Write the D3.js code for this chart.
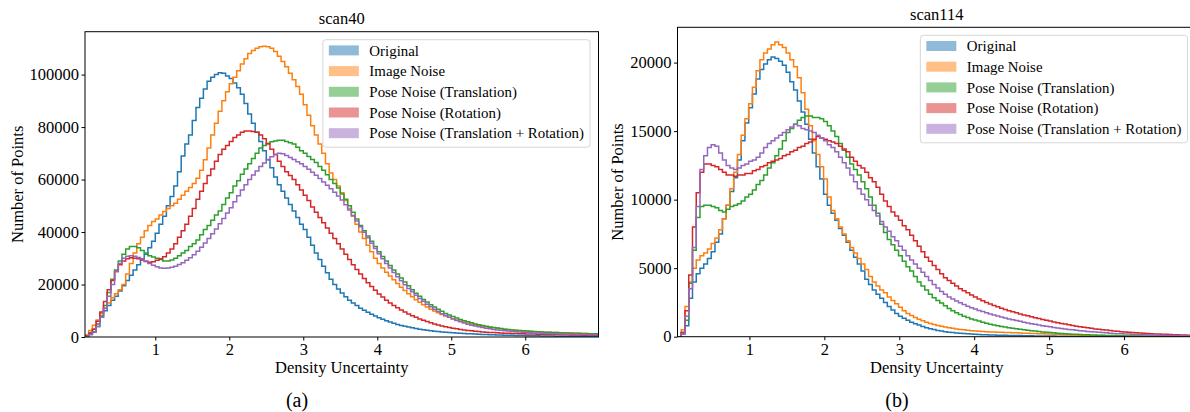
<!DOCTYPE html>
<html>
<head>
<meta charset="utf-8">
<script src="https://cdn.jsdelivr.net/npm/d3@7"></script>
<style>
  body { margin: 0; background: #ffffff; }
  svg { display: block; font-family: "Liberation Serif", "Times New Roman", serif; }
</style>
</head>
<body>
<svg id="chart" width="1190" height="412"></svg>
<script>
//=================== DATA ====================================
var seriesLabels = ["Original", "Image Noise", "Pose Noise (Translation)",
    "Pose Noise (Rotation)", "Pose Noise (Translation + Rotation)"];
var seriesColors = ["#1f77b4", "#ff7f0e", "#2ca02c", "#d62728", "#9467bd"];

var xTickValues = [1, 2, 3, 4, 5, 6];
var scan40YTicks = [0, 20000, 40000, 60000, 80000, 100000];
var scan114YTicks = [0, 5000, 10000, 15000, 20000];

// histogram bins (density uncertainty), same width in both scans
var binWidth = 0.05;
var scan40BinStart = 0.05;
var scan114BinStart = 0.04;

// scan40 counts per bin, in thousands of points
var scan40Original = [
    0.5,1.5,3,5,7.5,10,12,14,15.5,17.5,
    19.5,21.5,23.5,25.5,27.5,29.5,31.5,34,36.5,39.5,
    43,46,50,53.5,57.5,63,69,73.5,77,82.5,
    87.5,91,94.5,97.5,99,100,100.7,100.5,99.5,98.5,
    96.8,95,92.5,89,85,81.5,78,74.5,71,67.5,
    64.5,61,58,55.5,53,50.5,48,45.5,43,41,
    38,35,32,29.5,27,24.5,22,20,18.3,16.8,
    15.3,14,13,12,11,10.2,9.4,8.7,8,7.3,
    6.8,6.2,5.7,5.2,4.8,4.4,4.1,3.8,3.5,3.2,
    3,2.8,2.6,2.4,2.2,2.05,1.9,1.8,1.7,1.6,
    1.5,1.4,1.3,1.25,1.2,1.1,1.05,1,0.95,0.9,
    0.85,0.8,0.75,0.7,0.67,0.63,0.6,0.57,0.54,0.5,
    0.48,0.45,0.43,0.4,0.38,0.36,0.34,0.32,0.3,0.29,
    0.28,0.27,0.26,0.25,0.24,0.23,0.22,0.21,0.2];
var scan40ImageNoise = [
    0.8,2.5,4.5,6.5,9,11,13,15,16.5,18,
    20,24,28,32,35.5,38,40.5,42.5,44,45,
    46.5,47.8,49,50,51,52.5,54,55.5,57,58.5,
    60.5,63.5,67.5,72,77,81.5,86,90,93.5,96.5,
    99,101.5,104,106,108,109.2,110,110.6,110.8,110.6,
    110,108.8,107,105,103,100.5,98,95.5,92.5,88.5,
    84.5,80.5,77,73.5,70,66,62.5,60,57.5,55,
    52,49,46,43,40,37.5,35,32.5,30,28,
    26.3,24.7,23.2,21.8,20.4,19,17.7,16.5,15.3,14.2,
    13.2,12.3,11.4,10.6,9.9,9.2,8.6,8,7.5,7,
    6.5,6.1,5.7,5.3,5,4.7,4.4,4.1,3.9,3.7,
    3.5,3.3,3.1,2.95,2.8,2.65,2.5,2.4,2.3,2.2,
    2.1,2,1.95,1.9,1.85,1.8,1.75,1.7,1.65,1.6,
    1.55,1.5,1.45,1.4,1.35,1.3,1.25,1.2,1.15];
var scan40PoseTrans = [
    0.3,1,2,4,8,12,17,22,25.5,29,
    31.5,33.5,34.5,34.5,34,33,32,31,30.5,30,
    29.5,29,29,29.3,30,31,32,33,34.5,35.5,
    37,39,41,42.5,44.5,46.5,48,50.5,53,55,
    57.5,59.5,62,64,66,68,70,72,73,73.8,
    74.4,74.7,75,75,74.5,74,73.5,72.3,71,70,
    68.8,67.6,66.5,65,63.5,61.8,60,58.5,56.8,54.5,
    52.5,50,47.5,45,42.5,40.5,38.5,36.5,34.5,32.5,
    30.7,29,27.2,25.5,24,22.5,21,19.5,18,16.7,
    15.5,14.3,13.3,12.3,11.4,10.6,9.8,9,8.4,7.8,
    7.2,6.7,6.2,5.8,5.4,5,4.7,4.4,4.1,3.85,
    3.6,3.4,3.2,3,2.85,2.7,2.55,2.45,2.35,2.25,
    2.15,2.05,1.98,1.9,1.85,1.8,1.74,1.68,1.62,1.57,
    1.52,1.47,1.43,1.39,1.35,1.31,1.28,1.25,1.22];
var scan40PoseRot = [
    0.5,1.5,3,6,9.5,13.5,18,21.5,25,27.5,
    29,29.8,30.2,30,29.8,29.3,28.8,28.5,28.7,29.2,
    29.8,30.6,32,33.5,35.5,38,40.5,43,46,49,
    52.5,55.5,58.5,61.5,64,67,69.5,71.5,73,74.5,
    76,77,78,78.5,78.5,78.3,78,77,75.5,73.5,
    71.5,69.5,67,65,63,61.5,60,58,56,54,
    52,49.5,47.5,45.5,43.5,41.5,39.5,37.5,35.5,33.5,
    31.5,29.5,27.5,25.7,24,22.3,20.7,19.2,17.8,16.4,
    15.2,14,13,12,11.1,10.3,9.5,8.8,8.1,7.5,
    6.9,6.4,5.9,5.4,5,4.6,4.2,3.9,3.6,3.3,
    3.1,2.9,2.7,2.5,2.35,2.2,2.05,1.95,1.85,1.75,
    1.67,1.6,1.53,1.47,1.41,1.36,1.31,1.27,1.23,1.19,
    1.15,1.11,1.07,1.03,1,0.97,0.94,0.91,0.88,0.85,
    0.82,0.79,0.76,0.73,0.7,0.68,0.66,0.64,0.62];
var scan40PoseBoth = [
    0.3,1,1.8,4,7.5,11,15.5,20,25,28,
    30,30.8,31,30.8,30.3,29.8,29,28,27.3,26.8,
    26.3,26.2,26.3,26.6,27,27.6,28.3,29.2,30.2,31.3,
    32.7,34.2,35.8,37.5,39.3,41.2,43.2,45.2,47.3,49.3,
    51.5,53.8,56,58,60,61.7,63.3,65,66.3,67.6,
    68.7,69.5,70,69.8,69.2,68.4,67.6,66.8,66,65,
    63.9,62.8,61.6,60.4,59.1,57.8,56.5,55.2,53.7,52.2,
    50.4,48.4,46.3,44.2,42,39.9,37.8,35.7,33.7,31.7,
    29.8,28,26.3,24.6,23,21.4,19.9,18.5,17.2,15.9,
    14.7,13.6,12.5,11.5,10.6,9.7,8.9,8.2,7.5,6.9,
    6.3,5.8,5.3,4.9,4.5,4.2,3.9,3.6,3.35,3.1,
    2.9,2.7,2.55,2.4,2.25,2.12,2,1.9,1.8,1.72,
    1.64,1.57,1.5,1.44,1.38,1.32,1.27,1.22,1.17,1.13,
    1.09,1.05,1.01,0.98,0.95,0.92,0.89,0.86,0.84];

// scan114 counts per bin, in thousands of points
var scan114Original = [
    0,0.2,0.8,2.8,4,4.6,5,5.3,5.7,6.2,
    6.9,7.5,8.6,9.6,10.6,11.6,12.9,14.3,15.6,16.7,
    17.7,18.8,19.5,19.9,20.2,20.4,20.3,20.1,19.8,19.3,
    18.6,18,17.2,16.4,15.5,14.4,13.4,12.4,11.5,10.4,
    9.6,9,8.5,7.9,7.4,6.9,6.3,5.8,5.3,4.8,
    4.2,3.8,3.4,3.1,2.8,2.5,2.2,1.95,1.7,1.5,
    1.35,1.2,1.05,0.95,0.85,0.75,0.65,0.58,0.52,0.46,
    0.41,0.37,0.33,0.3,0.27,0.25,0.23,0.21,0.19,0.17,
    0.16,0.15,0.14,0.13,0.12,0.11,0.1,0.1,0.095,0.09,
    0.085,0.08,0.075,0.07,0.065,0.06,0.055,0.05,0.05,0.045,
    0.045,0.04,0.04,0.035,0.035,0.03,0.03,0.03,0.03,0.025,
    0.025,0.025,0.02,0.02,0.02,0.02,0.02,0.02,0.02,0.02,
    0.02,0.02,0.015,0.015,0.015,0.015,0.015,0.015,0.015,0.015,
    0.01,0.01,0.01,0.01,0.01,0.01,0.01,0.01];
var scan114ImageNoise = [
    0,0.5,2.2,4,5,5.6,5.9,6.1,6.4,6.8,
    7.2,7.8,8.6,9.6,10.8,12,13.3,14.7,15.9,17,
    18.2,19.4,20.2,20.7,21,21.3,21.5,21.3,21.1,20.7,
    20.2,19.7,18.9,17.8,16.6,15.4,14.3,13.3,12.4,11.5,
    10.2,9.2,8.6,8,7.5,7,6.5,6.1,5.7,5.3,
    4.9,4.4,4,3.7,3.4,3.2,2.9,2.65,2.4,2.15,
    1.9,1.7,1.55,1.4,1.27,1.16,1.06,0.97,0.89,0.82,
    0.76,0.71,0.66,0.61,0.57,0.53,0.5,0.47,0.44,0.42,
    0.4,0.38,0.36,0.35,0.34,0.33,0.32,0.31,0.3,0.29,
    0.28,0.27,0.26,0.25,0.24,0.23,0.22,0.21,0.2,0.19,
    0.18,0.17,0.16,0.15,0.14,0.13,0.12,0.11,0.1,0.1,
    0.09,0.09,0.08,0.08,0.07,0.07,0.06,0.06,0.06,0.05,
    0.05,0.05,0.04,0.04,0.04,0.04,0.03,0.03,0.03,0.03,
    0.03,0.02,0.02,0.02,0.02,0.02,0.02,0.02];
var scan114PoseTrans = [
    0,0.3,1.2,3.9,6.3,8.7,9.5,9.6,9.6,9.5,
    9.4,9.2,9.1,9.3,9.5,9.6,9.7,9.9,10.2,10.4,
    10.7,11.1,11.4,11.8,12.3,12.7,13.2,13.7,14.3,14.9,
    15.2,15.5,15.8,16,16.1,16.1,16,16,15.9,15.7,
    15.4,15,14.6,14.1,13.6,13.1,12.6,12.2,11.8,11.3,
    10.8,10.2,9.6,9,8.2,7.6,7.1,6.7,6.3,5.9,
    5.5,5.1,4.8,4.4,4,3.7,3.4,3.1,2.85,2.65,
    2.45,2.25,2.05,1.9,1.75,1.62,1.5,1.4,1.3,1.22,
    1.14,1.06,0.98,0.91,0.85,0.8,0.75,0.7,0.66,0.62,
    0.58,0.54,0.5,0.47,0.44,0.41,0.38,0.35,0.32,0.3,
    0.28,0.26,0.24,0.22,0.2,0.18,0.17,0.16,0.15,0.14,
    0.13,0.12,0.11,0.1,0.09,0.08,0.08,0.07,0.07,0.06,
    0.06,0.05,0.05,0.05,0.04,0.04,0.04,0.03,0.03,0.03,
    0.03,0.03,0.02,0.02,0.02,0.02,0.02,0.02];
var scan114PoseRot = [
    0,0.3,1.9,4.5,8,10.5,12,12.6,12.6,12.5,
    12.4,12.2,12,11.8,11.8,11.7,11.8,11.8,11.9,11.9,
    12.1,12.2,12.4,12.5,12.7,12.8,12.9,13,13.2,13.3,
    13.5,13.6,13.8,13.9,14.1,14.2,14.4,14.6,14.5,14.4,
    14.3,14.2,14.1,13.9,13.7,13.5,13.1,12.8,12.5,12.3,
    12,11.6,11.3,10.9,10.4,9.9,9.5,9.1,8.8,8.5,
    8.1,7.8,7.4,7,6.6,6.2,5.8,5.5,5.2,4.9,
    4.6,4.3,4.1,3.9,3.7,3.5,3.35,3.2,3.05,2.9,
    2.75,2.62,2.5,2.39,2.28,2.18,2.08,1.99,1.9,1.82,
    1.74,1.66,1.59,1.52,1.45,1.38,1.32,1.26,1.2,1.14,
    1.08,1.02,0.97,0.92,0.87,0.82,0.77,0.73,0.69,0.65,
    0.61,0.57,0.54,0.51,0.48,0.45,0.42,0.4,0.37,0.35,
    0.33,0.31,0.29,0.27,0.25,0.23,0.22,0.2,0.19,0.18,
    0.17,0.16,0.15,0.14,0.13,0.12,0.11,0.1];
var scan114PoseBoth = [
    0,0.2,1.5,3.5,6.5,9.5,12.2,13.2,13.8,14,
    13.9,13.4,12.9,12.5,12.3,12.2,12.3,12.5,12.6,12.8,
    12.9,13.1,13.4,13.8,14.1,14.3,14.5,14.7,14.9,15.1,
    15.3,15.5,15.4,15.2,15.1,15,14.9,14.7,14.5,14.3,
    14,13.8,13.5,13.1,12.7,12.3,11.8,11.3,10.8,10.4,
    10,9.6,9.2,8.8,8.4,8,7.7,7.3,7,6.6,
    6.3,5.9,5.6,5.3,5,4.7,4.4,4.1,3.8,3.55,
    3.3,3.1,2.9,2.75,2.6,2.47,2.35,2.23,2.12,2.02,
    1.92,1.83,1.74,1.66,1.58,1.51,1.44,1.37,1.3,1.24,
    1.18,1.12,1.06,1,0.95,0.9,0.85,0.8,0.76,0.72,
    0.68,0.64,0.6,0.56,0.53,0.5,0.47,0.44,0.41,0.38,
    0.36,0.34,0.32,0.3,0.28,0.26,0.24,0.22,0.21,0.2,
    0.19,0.18,0.17,0.16,0.15,0.14,0.13,0.12,0.11,0.1,
    0.09,0.09,0.08,0.08,0.07,0.07,0.06,0.06];

//=================== DRAWING ====================================
var svg = d3.select("#chart");

function histogramPanel(opts) {
    var x = d3.scaleLinear().domain(opts.xDomain).range([opts.left, opts.right]);
    var yMax = d3.max(opts.series, function (s) { return d3.max(s); }) * 1000 * 1.05;
    var y = d3.scaleLinear().domain([0, yMax]).range([opts.bottom, opts.top]);

    var grp = svg.append("g").attr("class", "panel-" + opts.id);

    grp.append("clipPath").attr("id", "clip-" + opts.id)
        .append("rect")
        .attr("x", opts.left).attr("y", opts.top)
        .attr("width", opts.right - opts.left).attr("height", opts.bottom - opts.top);

    // step outlines, like histtype='step'
    var stepLine = d3.line()
        .x(function (d) { return x(d[0]); })
        .y(function (d) { return y(d[1]); })
        .curve(d3.curveStepAfter);

    var lines = grp.append("g").attr("clip-path", "url(#clip-" + opts.id + ")");
    opts.series.forEach(function (values, k) {
        var pts = [[opts.binStart, 0]];
        values.forEach(function (v, i) { pts.push([opts.binStart + i * binWidth, v * 1000]); });
        pts.push([opts.binStart + values.length * binWidth, 0]);
        lines.append("path")
            .attr("d", stepLine(pts))
            .attr("fill", "none")
            .attr("stroke", seriesColors[k])
            .attr("stroke-width", 1.5)
            .attr("stroke-linejoin", "miter");
    });

    // axes
    var xAxis = d3.axisBottom(x).tickValues(xTickValues).tickSize(3.5).tickPadding(3)
        .tickFormat(d3.format("d"));
    var yAxis = d3.axisLeft(y).tickValues(opts.yTicks).tickSize(3.5).tickPadding(2.5)
        .tickFormat(d3.format("d"));

    var gx = grp.append("g").attr("transform", "translate(0," + opts.bottom + ")").call(xAxis);
    var gy = grp.append("g").attr("transform", "translate(" + opts.left + ",0)").call(yAxis);
    [gx, gy].forEach(function (a) {
        a.select(".domain").remove();
        a.selectAll(".tick line").attr("stroke", "#000").attr("stroke-width", 1);
        a.selectAll(".tick text").attr("fill", "#000")
            .style("font-size", "16.5px")
            .style("font-family", "'Liberation Serif', 'Times New Roman', serif");
    });

    // frame
    grp.append("rect")
        .attr("x", opts.left).attr("y", opts.top)
        .attr("width", opts.right - opts.left).attr("height", opts.bottom - opts.top)
        .attr("fill", "none").attr("stroke", "#000").attr("stroke-width", 1);

    var midX = (opts.left + opts.right) / 2;
    grp.append("text").text(opts.title)
        .attr("x", midX).attr("y", opts.top - 7.5)
        .attr("text-anchor", "middle").style("font-size", "16.5px");
    grp.append("text").text("Density Uncertainty")
        .attr("x", midX).attr("y", 373)
        .attr("text-anchor", "middle").style("font-size", "16.5px");
    grp.append("text").text("Number of Points")
        .attr("transform", "translate(" + opts.yLabelX + "," + (opts.top + opts.bottom) / 2 + ") rotate(-90)")
        .attr("dy", "0.35em")
        .attr("text-anchor", "middle").style("font-size", "16.5px");
    grp.append("text").text(opts.caption)
        .attr("x", opts.captionX).attr("y", 407)
        .attr("text-anchor", "middle").style("font-size", "20px");

    // legend, upper right
    var rowGap = 20.7;
    var lg = grp.append("g");
    var frame = lg.append("rect");
    var maxW = 0;
    seriesLabels.forEach(function (label, k) {
        var cy = 10.7 + k * rowGap;
        lg.append("rect")
            .attr("x", 6).attr("y", cy - 5)
            .attr("width", 30).attr("height", 10)
            .attr("fill", seriesColors[k]).attr("fill-opacity", 0.5);
        var t = lg.append("text").text(label)
            .attr("x", 46.5).attr("y", cy).attr("dy", "0.35em")
            .style("font-size", "14.9px");
        maxW = Math.max(maxW, t.node().getComputedTextLength());
    });
    var lw = 46.5 + maxW + 6;
    frame.attr("x", 0).attr("y", 0).attr("width", lw).attr("height", 107.5)
        .attr("rx", 3).attr("fill", "#fff").attr("fill-opacity", 0.8)
        .attr("stroke", "#d6d6d6").attr("stroke-width", 1);
    lg.attr("transform", "translate(" + (opts.right - 8.5 - lw) + "," + (opts.top + 8) + ")");
}

histogramPanel({
    id: "scan40", title: "scan40", caption: "(a)", captionX: 297,
    left: 85, right: 598.5, top: 31.7, bottom: 337,
    xDomain: [0.05, 6.99], binStart: scan40BinStart,
    yTicks: scan40YTicks, yLabelX: 17,
    series: [scan40Original, scan40ImageNoise, scan40PoseTrans, scan40PoseRot, scan40PoseBoth]
});

histogramPanel({
    id: "scan114", title: "scan114", caption: "(b)", captionX: 897,
    left: 677.5, right: 1196, top: 27.3, bottom: 336.7,
    xDomain: [0.04, 6.96], binStart: scan114BinStart,
    yTicks: scan114YTicks, yLabelX: 617,
    series: [scan114Original, scan114ImageNoise, scan114PoseTrans, scan114PoseRot, scan114PoseBoth]
});
</script>
</body>
</html>
